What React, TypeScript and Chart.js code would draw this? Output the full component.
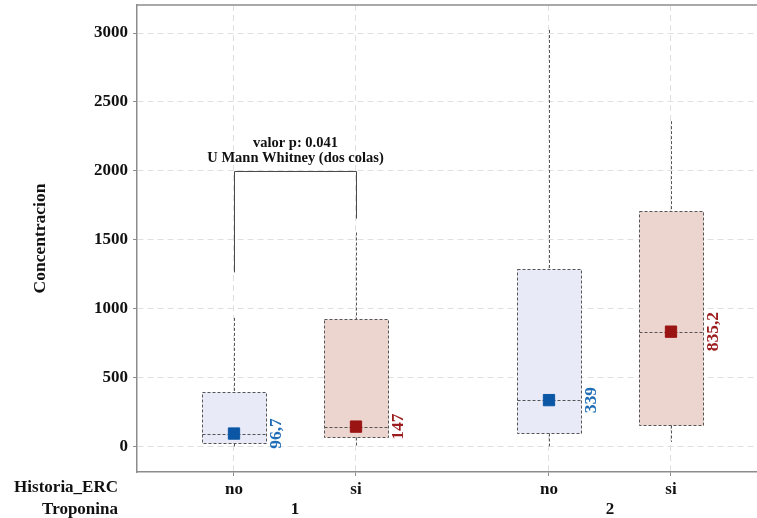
import React, { useEffect, useRef } from 'react';
import { Chart, registerables } from 'chart.js';

Chart.register(...registerables);

// ---- data ----
const historiaERC = ['no', 'si', 'no', 'si'];
const troponinaGroups = ['1', '2'];
const groupOf = [0, 0, 1, 1];
const slotInGroup = [0, 1, 0, 1];
const whiskerLow = [0, 5, 5, 36];
const q1 = [29, 73, 102, 160];
const median = [96.7, 147, 339, 835.2];
const q3 = [400, 930, 1293, 1707];
const whiskerHigh = [935, 1554, 3022, 2361];
const medianLabels = ['96,7', '147', '339', '835,2'];
const yTicks = [0, 500, 1000, 1500, 2000, 2500, 3000];
const pValueLines = ['valor p: 0.041', 'U Mann Whitney (dos colas)'];
const bracketTop = 2000;
const bracketLeftEnd = 1265;
const bracketRightEnd = 1655;

// ---- layout / style ----
const GROUP_STEP = 2.582;
const BOX_HALF = 0.266;
const positions = groupOf.map((g, i) => g * GROUP_STEP + slotInGroup[i]);
const SERIF = '"Liberation Serif", "Times New Roman", serif';
const fillColor: Record<string, string> = { no: '#e8eaf7', si: '#ecd5ce' };
const markerColor: Record<string, string> = { no: '#0b57a5', si: '#9b1414' };
const labelColor: Record<string, string> = { no: '#1f6db6', si: '#9b1c1c' };
const FRAME = '#8c8c8c';
const BOX_LINE = '#555555';
const GRID = '#e0e0e0';

const zeroPad = (s: any) => {
  s.paddingTop = 0;
  s.paddingBottom = 0;
  s.paddingLeft = 0;
  s.paddingRight = 0;
};

const boxPlugin = {
  id: 'boxPlugin',
  beforeDatasetsDraw(chart: any) {
    const { ctx, scales } = chart;
    const x = scales.x;
    const y = scales.y;
    ctx.save();
    for (let i = 0; i < positions.length; i++) {
      const cx = Math.round(x.getPixelForValue(positions[i])) + 0.5;
      const l = Math.round(x.getPixelForValue(positions[i] - BOX_HALF)) + 0.5;
      const r = Math.round(x.getPixelForValue(positions[i] + BOX_HALF)) + 0.5;
      const yq1 = Math.round(y.getPixelForValue(q1[i])) + 0.5;
      const yq3 = Math.round(y.getPixelForValue(q3[i])) + 0.5;
      const ymed = Math.round(y.getPixelForValue(median[i])) + 0.5;
      const ylo = y.getPixelForValue(whiskerLow[i]);
      const yhi = y.getPixelForValue(whiskerHigh[i]);
      ctx.fillStyle = fillColor[historiaERC[i]];
      ctx.fillRect(l, yq3, r - l, yq1 - yq3);
      ctx.strokeStyle = BOX_LINE;
      ctx.lineWidth = 1;
      ctx.setLineDash([3, 2]);
      ctx.beginPath();
      ctx.moveTo(cx, yhi);
      ctx.lineTo(cx, yq3);
      ctx.moveTo(cx, yq1);
      ctx.lineTo(cx, ylo);
      ctx.stroke();
      ctx.strokeRect(l, yq3, r - l, yq1 - yq3);
      ctx.beginPath();
      ctx.moveTo(l, ymed);
      ctx.lineTo(r, ymed);
      ctx.stroke();
    }
    ctx.restore();
  },
  afterDatasetsDraw(chart: any) {
    const { ctx, scales } = chart;
    const x = scales.x;
    const y = scales.y;
    ctx.save();
    // median labels
    for (let i = 0; i < positions.length; i++) {
      const r = x.getPixelForValue(positions[i] + BOX_HALF);
      const ym = y.getPixelForValue(median[i]);
      ctx.save();
      ctx.translate(r + 10, ym);
      ctx.rotate(-Math.PI / 2);
      ctx.fillStyle = labelColor[historiaERC[i]];
      ctx.font = `bold 17.5px ${SERIF}`;
      ctx.textAlign = 'center';
      ctx.textBaseline = 'middle';
      ctx.fillText(medianLabels[i], 0, 0);
      ctx.restore();
    }
    // bracket
    const bl = Math.round(x.getPixelForValue(positions[0])) + 0.5;
    const br = Math.round(x.getPixelForValue(positions[1])) + 0.5;
    const bt = Math.round(y.getPixelForValue(bracketTop)) + 0.5;
    ctx.strokeStyle = '#4a4a4a';
    ctx.lineWidth = 1;
    ctx.setLineDash([]);
    ctx.beginPath();
    ctx.moveTo(bl, y.getPixelForValue(bracketLeftEnd));
    ctx.lineTo(bl, bt);
    ctx.lineTo(br, bt);
    ctx.lineTo(br, y.getPixelForValue(bracketRightEnd));
    ctx.stroke();
    ctx.fillStyle = '#111';
    ctx.font = `bold 14.5px ${SERIF}`;
    ctx.textAlign = 'center';
    ctx.textBaseline = 'middle';
    const mid = (bl + br) / 2;
    ctx.fillText(pValueLines[0], mid, bt - 28);
    ctx.fillText(pValueLines[1], mid, bt - 13);
    ctx.restore();
  },
  afterDraw(chart: any) {
    const { ctx, scales, chartArea } = chart;
    const x = scales.x;
    ctx.save();
    // top frame line
    ctx.strokeStyle = FRAME;
    ctx.lineWidth = 1.5;
    ctx.beginPath();
    ctx.moveTo(chartArea.left, chartArea.top);
    ctx.lineTo(chartArea.right, chartArea.top);
    ctx.stroke();
    // group labels
    ctx.fillStyle = '#111';
    ctx.font = `bold 17px ${SERIF}`;
    ctx.textBaseline = 'middle';
    ctx.textAlign = 'center';
    troponinaGroups.forEach((g, gi) => {
      const idx = groupOf.map((v, i) => (v === gi ? i : -1)).filter((v) => v >= 0);
      const c = (positions[idx[0]] + positions[idx[idx.length - 1]]) / 2;
      ctx.fillText(g, x.getPixelForValue(c), chartArea.bottom + 38);
    });
    ctx.textAlign = 'right';
    ctx.fillText('Historia_ERC', 118, chartArea.bottom + 16);
    ctx.fillText('Troponina', 118, chartArea.bottom + 38);
    ctx.restore();
  },
};

export default function App() {
  const ref = useRef<HTMLCanvasElement | null>(null);
  useEffect(() => {
    document.body.style.margin = '0';
    const canvas = ref.current!;
    const chart = new Chart(canvas, {
      type: 'scatter',
      data: {
        datasets: [
          {
            data: positions.map((p, i) => ({ x: p, y: median[i] })),
            pointStyle: 'rect',
            pointRadius: 8,
            pointHoverRadius: 8,
            pointBackgroundColor: historiaERC.map((h) => markerColor[h]),
            pointBorderColor: historiaERC.map((h) => markerColor[h]),
            pointBorderWidth: 1,
          },
        ],
      },
      options: {
        responsive: false,
        animation: false,
        layout: { autoPadding: false, padding: { top: 5, left: 0, right: 0, bottom: 0 } },
        plugins: { legend: { display: false }, tooltip: { enabled: false } },
        scales: {
          x: {
            type: 'linear',
            min: -0.795,
            max: 4.287,
            afterBuildTicks: (s: any) => {
              s.ticks = positions.map((p) => ({ value: p }));
            },
            afterFit: (s: any) => {
              s.height = 46;
              zeroPad(s);
            },
            ticks: {
              autoSkip: false,
              maxRotation: 0,
              padding: 3,
              color: '#111',
              font: { family: SERIF, size: 17, weight: 'bold' },
              callback: (_v: any, i: number) => historiaERC[i],
            },
            grid: {
              color: GRID,
              tickLength: 4,
              tickColor: FRAME,
              tickBorderDash: [],
              tickWidth: 1,
            } as any,
            border: { display: true, color: FRAME, width: 1.5, dash: [6, 4] },
          },
          y: {
            type: 'linear',
            min: -182,
            max: 3203,
            afterBuildTicks: (s: any) => {
              s.ticks = yTicks.map((v) => ({ value: v }));
            },
            afterFit: (s: any) => {
              s.width = 137;
              zeroPad(s);
            },
            ticks: {
              padding: 5,
              color: '#111',
              font: { family: SERIF, size: 17, weight: 'bold' },
              callback: (v: any) => String(v),
            },
            grid: {
              color: GRID,
              tickLength: 4,
              tickColor: FRAME,
              tickBorderDash: [],
              tickWidth: 1,
            } as any,
            border: { display: true, color: FRAME, width: 1.5, dash: [6, 4] },
            title: {
              display: true,
              text: 'Concentracion',
              color: '#111',
              font: { family: SERIF, size: 17.5, weight: 'bold' },
              padding: { top: 30, bottom: 0 },
            },
          },
        },
      },
      plugins: [boxPlugin],
    } as any);
    return () => chart.destroy();
  }, []);
  return (
    <div style={{ position: 'absolute', left: 0, top: 0, width: 757, height: 518 }}>
      <canvas ref={ref} width={757} height={518} style={{ width: 757, height: 518 }} />
    </div>
  );
}
